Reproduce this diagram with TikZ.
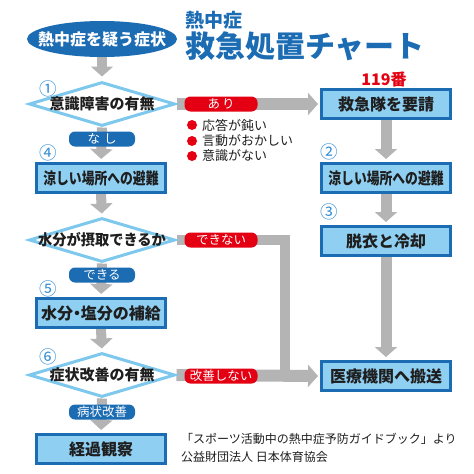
\documentclass[tikz,border=0pt]{standalone}
\usepackage{fontspec}
\setmainfont{Noto Sans CJK JP}
\usepackage{graphicx}
\usepackage{tikz}
\usetikzlibrary{shapes.geometric, arrows.meta, positioning, backgrounds}
\usepackage{xcolor}
\definecolor{cBlue}{RGB}{28,108,180}
\definecolor{cSky}{RGB}{143,207,242}
\definecolor{cDiam}{RGB}{125,200,236}
\definecolor{cArrow}{RGB}{180,180,180}
\definecolor{cRed}{RGB}{228,0,18}
\definecolor{cNum}{RGB}{50,140,210}
\definecolor{cInk}{RGB}{30,30,30}
\newcommand{\fsz}[1]{\fontsize{#1}{#1}\selectfont}
\tikzset{
  startnode/.style={ellipse, fill=cBlue, inner sep=0pt,
                    minimum width=150pt, minimum height=36pt},
  starttext/.style={inner sep=0pt, text=white, font=\fsz{16}\bfseries},
  titlesmall/.style={anchor=west, inner sep=0pt, text=cBlue,
                     font=\fsz{19}\bfseries},
  titlebig/.style={anchor=west, inner sep=0pt, text=cBlue,
                   font=\fsz{30}\bfseries},
  boxnode/.style={rectangle, draw=cBlue, fill=cSky, line width=3pt,
                  minimum width=129pt, minimum height=29pt, inner sep=0pt,
                  text=cInk, font=\fsz{16}\bfseries},
  decnode/.style={diamond, draw=cDiam, fill=white, line width=3pt,
                  minimum width=146pt, minimum height=44pt, inner sep=0pt},
  dectext/.style={inner sep=0pt, text=cInk, font=\fsz{15}\bfseries},
  yeslabel/.style={rectangle, rounded corners=6pt, fill=cRed, text=white,
                   minimum width=73pt, minimum height=15pt, inner sep=0pt,
                   font=\fsz{12.5}},
  nolabel/.style={rectangle, rounded corners=6pt, fill=cBlue, text=white,
                  minimum width=66pt, minimum height=15pt, inner sep=0pt,
                  font=\fsz{12.5}},
  numnode/.style={inner sep=0pt, text=cNum, font=\fsz{17.5}},
  dotnode/.style={circle, fill=cRed, minimum size=10pt, inner sep=0pt},
  itemtext/.style={anchor=west, inner sep=0pt, text=cInk, font=\fsz{13}},
  redtext/.style={inner sep=0pt, text=cRed, font=\fsz{16}\bfseries},
  citetext/.style={anchor=west, inner sep=0pt, text=cInk, font=\fsz{12}},
  grayarrow/.style={draw=cArrow, line width=10pt,
                    -{Triangle[width=22pt, length=10pt]}},
  grayline/.style={draw=cArrow, line width=10pt}
}
\begin{document}
\begin{tikzpicture}[x=1pt, y=-1pt]
  \useasboundingbox (0,0) rectangle (474,474);

  % Start and title
  \node[startnode, label={[starttext]center:熱中症を疑う症状}] (start) at (102,39) {};
  \node[titlesmall] (title_top) at (185,20) {熱中症};
  \node[titlebig] (title_main) at (185,46) {救急処置チャート};

  % Left column
  \node[numnode] (num1) at (48,89) {①};
  \node[decnode, label={[dectext]center:意識障害の有無}] (consc) at (102,104) {};
  \node[nolabel] (lab_nashi) at (102,139) {な\hspace{4pt}し};
  \node[numnode] (num4) at (48,153) {④};
  \node[boxnode] (cool_l) at (101,178) {\scalebox{0.8}[1]{涼しい場所への避難}};
  \node[decnode, label={[dectext]center:\scalebox{0.95}[1]{水分が摂取できるか}}] (water) at (102,240) {};
  \node[nolabel] (lab_can) at (102,275) {できる};
  \node[numnode] (num5) at (48,289) {⑤};
  \node[boxnode] (salt) at (101,313) {水分\hspace{-4pt}・\hspace{-4pt}塩分の補給};
  \node[numnode] (num6) at (48,357) {⑥};
  \node[decnode, label={[dectext]center:症状改善の有無}] (improve) at (102,375) {};
  \node[nolabel] (lab_imp) at (102,412) {病状改善};
  \node[boxnode] (watch) at (101,449) {経過観察};

  % Right column
  \node[redtext] (tel) at (384,79) {119番};
  \node[boxnode] (call) at (386,104) {救急隊を要請};
  \node[numnode] (num2) at (329,152) {②};
  \node[boxnode] (cool_r) at (386,178) {\scalebox{0.8}[1]{涼しい場所への避難}};
  \node[numnode] (num3) at (329,212) {③};
  \node[boxnode] (strip) at (386,241) {脱衣と冷却};
  \node[boxnode] (hosp) at (386,376) {医療機関へ搬送};

  % Branch labels
  \node[yeslabel] (lab_ari) at (221,104) {あ\hspace{2pt}り};
  \node[yeslabel] (lab_cant) at (221,240) {できない};
  \node[yeslabel] (lab_notimp) at (221,376) {改善しない};

  % Symptoms
  \node[dotnode] (dot1) at (192,125) {};
  \node[itemtext] (sym1) at (202,125) {応答が鈍い};
  \node[dotnode] (dot2) at (192,141) {};
  \node[itemtext] (sym2) at (202,141) {言動がおかしい};
  \node[dotnode] (dot3) at (192,156) {};
  \node[itemtext] (sym3) at (202,156) {意識がない};

  % Source
  \node[citetext] (cite1) at (181,439) {「スポーツ活動中の熱中症予防ガイドブック」より};
  \node[citetext] (cite2) at (181,457) {公益財団法人 日本体育協会};

  \coordinate (join) at (285,376);

  % Arrows
  \begin{pgfonlayer}{background}
    \draw[grayarrow, shorten >=4pt] (start.south) -- (consc.north);
    \draw[grayarrow, shorten >=3pt] (consc.south) -- (cool_l.north);
    \draw[grayarrow, shorten >=3pt] (cool_l.south) -- (water.north);
    \draw[grayarrow, shorten >=3pt] (water.south) -- (salt.north);
    \draw[grayarrow, shorten >=3pt] (salt.south) -- (improve.north);
    \draw[grayarrow, shorten >=3pt] (improve.south) -- (watch.north);
    \draw[grayarrow, line width=12pt, shorten >=2pt] (consc.east) -- (call.west);
    \draw[grayarrow, line width=11pt, shorten >=3pt] (call.south) -- (cool_r.north);
    \draw[grayarrow, line width=11pt, shorten >=3pt] (cool_r.south) -- (strip.north);
    \draw[grayarrow, line width=11pt, shorten >=3pt] (strip.south) -- (hosp.north);
    \draw[grayline] (water.east) -| (join);
    \draw[grayarrow, line width=12pt, shorten >=2pt] (improve.east) -- (hosp.west);
  \end{pgfonlayer}

\end{tikzpicture}
\end{document}
